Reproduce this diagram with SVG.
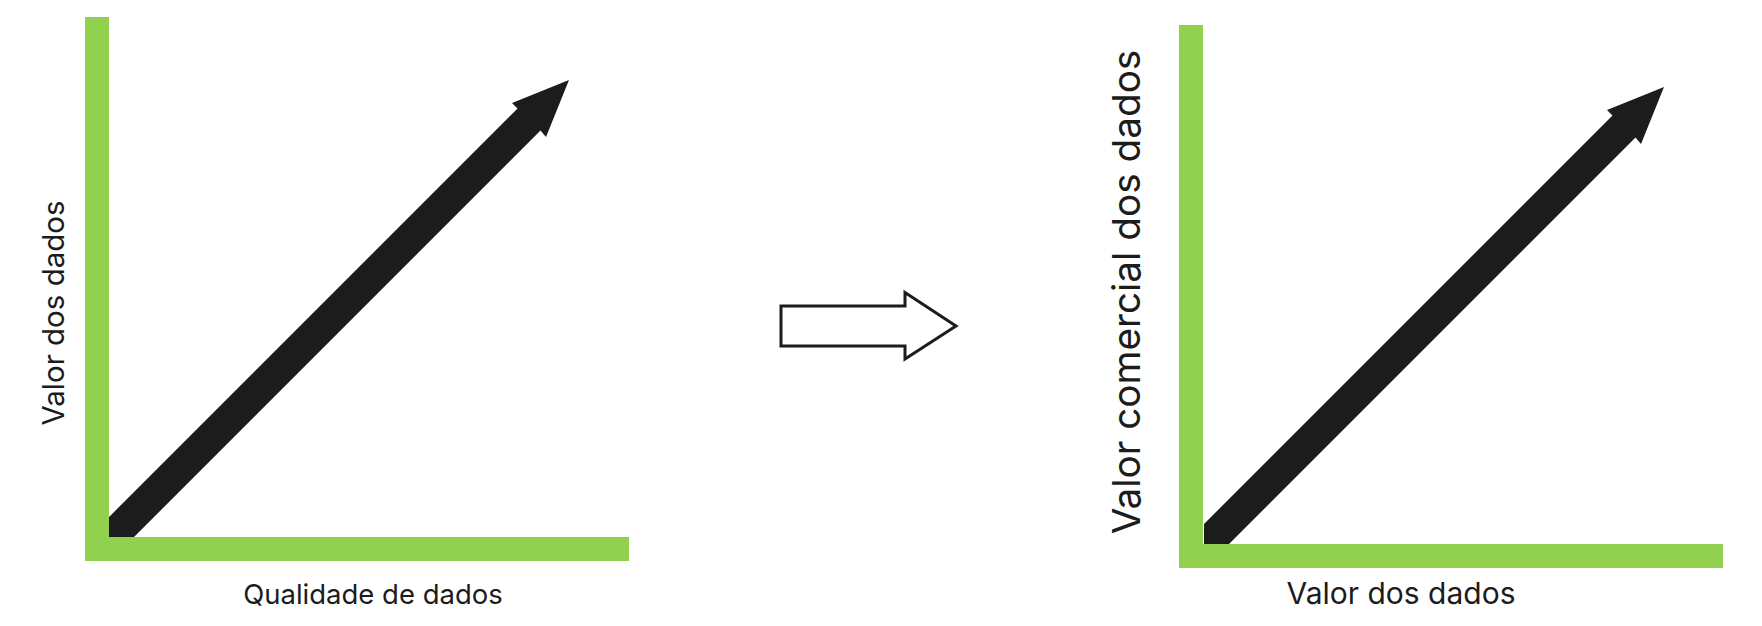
<svg xmlns="http://www.w3.org/2000/svg" width="1762" height="626" viewBox="0 0 1762 626">
<style>
.axis{fill:#92d050}
.arrow{fill:#1c1c1c}
.hollow{fill:#ffffff;stroke:#1c1c1c;stroke-width:3;stroke-linejoin:miter}
.lbl{font-family:Inter,"Liberation Sans",sans-serif;fill:#1c1c1c;text-anchor:middle}
</style>
<rect width="1762" height="626" fill="#ffffff"/>
<g id="chart-left">
  <polygon class="arrow" points="109,517 517.5,108.5 512,103 569,80 546,137 540.5,130.5 134,537 109,537"/>
  <rect class="axis" x="85" y="17" width="24" height="544"/>
  <rect class="axis" x="85" y="537" width="544" height="24"/>
  <text class="lbl" x="373" y="604" font-size="27.5">Qualidade de dados</text>
  <text class="lbl" transform="translate(64,313) rotate(-90)" x="0" y="0" font-size="29.5">Valor dos dados</text>
</g>
<g id="connectors">
  <polygon id="transition-arrow" class="hollow" points="781,306 905,306 905,292.5 956,326 905,359 905,346 781,346"/>
</g>
<g id="chart-right">
  <polygon class="arrow" points="1204,524 1612.5,115.5 1607,110 1664,87 1641,144 1635.5,137.5 1229,544 1204,544"/>
  <rect class="axis" x="1179" y="25" width="24" height="543"/>
  <rect class="axis" x="1179" y="544" width="544" height="24"/>
  <text class="lbl" x="1401" y="604" font-size="30">Valor dos dados</text>
  <text class="lbl" transform="translate(1140,292) rotate(-90)" x="0" y="0" font-size="38.7">Valor comercial dos dados</text>
</g>
</svg>
